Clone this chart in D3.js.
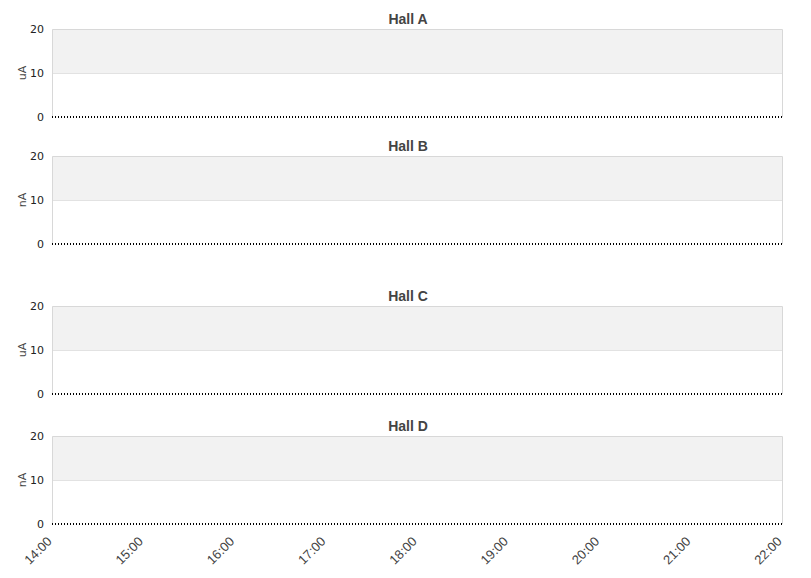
<!DOCTYPE html>
<html>
<head>
<meta charset="utf-8">
<script src="https://cdn.jsdelivr.net/npm/d3@7"></script>
<style>
  body { margin: 0; background: #fff; }
</style>
</head>
<body>
<div id="chart"></div>
<script>
var svgWidth = 811;
var svgHeight = 578;

// panels and their units
var halls = ["Hall A", "Hall B", "Hall C", "Hall D"];
var units = ["uA", "nA", "uA", "nA"];

// hourly readings (all flat at zero)
var hours = ["14:00", "15:00", "16:00", "17:00", "18:00", "19:00", "20:00", "21:00", "22:00"];
var hallA = [0, 0, 0, 0, 0, 0, 0, 0, 0];
var hallB = [0, 0, 0, 0, 0, 0, 0, 0, 0];
var hallC = [0, 0, 0, 0, 0, 0, 0, 0, 0];
var hallD = [0, 0, 0, 0, 0, 0, 0, 0, 0];
var yTicks = [0, 10, 20];

var series = [hallA, hallB, hallC, hallD];

// top of each plot area (value 20)
var panelTops = [29, 156, 306, 436];
var plotHeight = 88;
var left = 52, right = 782;

var parseTime = d3.timeParse("%H:%M");
var times = hours.map(parseTime);

var svg = d3.select("#chart").append("svg")
  .attr("width", svgWidth)
  .attr("height", svgHeight);

var x = d3.scaleTime()
  .domain([times[0], times[times.length - 1]])
  .range([left, right]);

halls.forEach(function(name, i) {
  var top = panelTops[i];
  var y = d3.scaleLinear().domain([0, 20]).range([top + plotHeight, top]);
  var g = svg.append("g");

  // bands
  g.append("rect")
    .attr("x", left).attr("y", y(20))
    .attr("width", right - left).attr("height", y(10) - y(20))
    .attr("fill", "#f2f2f2");

  // grid line at 10
  g.append("line")
    .attr("x1", left).attr("x2", right)
    .attr("y1", y(10) + 0.5).attr("y2", y(10) + 0.5)
    .attr("stroke", "#e2e2e2");

  // frame
  g.append("path")
    .attr("d", "M" + (left + 0.5) + "," + (y(0)) + "V" + (y(20) + 0.5) + "H" + (right + 0.5) + "V" + y(0))
    .attr("fill", "none")
    .attr("stroke", "#d8d8d8");

  // y axis
  var yAxis = d3.axisLeft(y).tickValues(yTicks).tickSize(0).tickPadding(8);
  var ya = g.append("g").attr("transform", "translate(" + left + ",0)").call(yAxis);
  ya.select(".domain").remove();
  ya.attr("font-size", 11).attr("font-family", "DejaVu Sans, sans-serif");
  ya.selectAll("text").attr("fill", "#222");

  // unit label
  g.append("text")
    .attr("transform", "translate(26," + (top + plotHeight / 2) + ") rotate(-90)")
    .attr("text-anchor", "middle")
    .attr("font-family", "DejaVu Sans, sans-serif")
    .attr("font-size", 11)
    .attr("fill", "#444")
    .text(units[i]);

  // title
  g.append("text")
    .attr("x", 408)
    .attr("y", top - 5)
    .attr("text-anchor", "middle")
    .attr("font-family", "Liberation Sans, Arial, sans-serif")
    .attr("font-weight", "bold")
    .attr("font-size", 14)
    .attr("fill", "#444")
    .text(name);

  // data line
  var line = d3.line()
    .x(function(d, j) { return x(times[j]); })
    .y(function(d) { return y(d); });

  g.append("path")
    .datum(series[i])
    .attr("d", line)
    .attr("fill", "none")
    .attr("stroke", "#000")
    .attr("stroke-width", 2)
    .attr("stroke-dasharray", "1,2");
});

// bottom time axis
var lastBottom = panelTops[3] + plotHeight;
var xAxis = d3.axisBottom(x).tickValues(times).tickFormat(d3.timeFormat("%H:%M")).tickSize(0);
var xa = svg.append("g")
  .attr("transform", "translate(0," + lastBottom + ")")
  .call(xAxis);
xa.select(".domain").remove();
xa.attr("font-size", 13).attr("font-family", "Liberation Sans, Arial, sans-serif");
xa.selectAll("text")
  .attr("fill", "#444")
  .attr("text-anchor", "end")
  .attr("y", 0)
  .attr("dy", "0.35em")
  .attr("transform", "translate(-3,15) rotate(-45)");
</script>
</body>
</html>
